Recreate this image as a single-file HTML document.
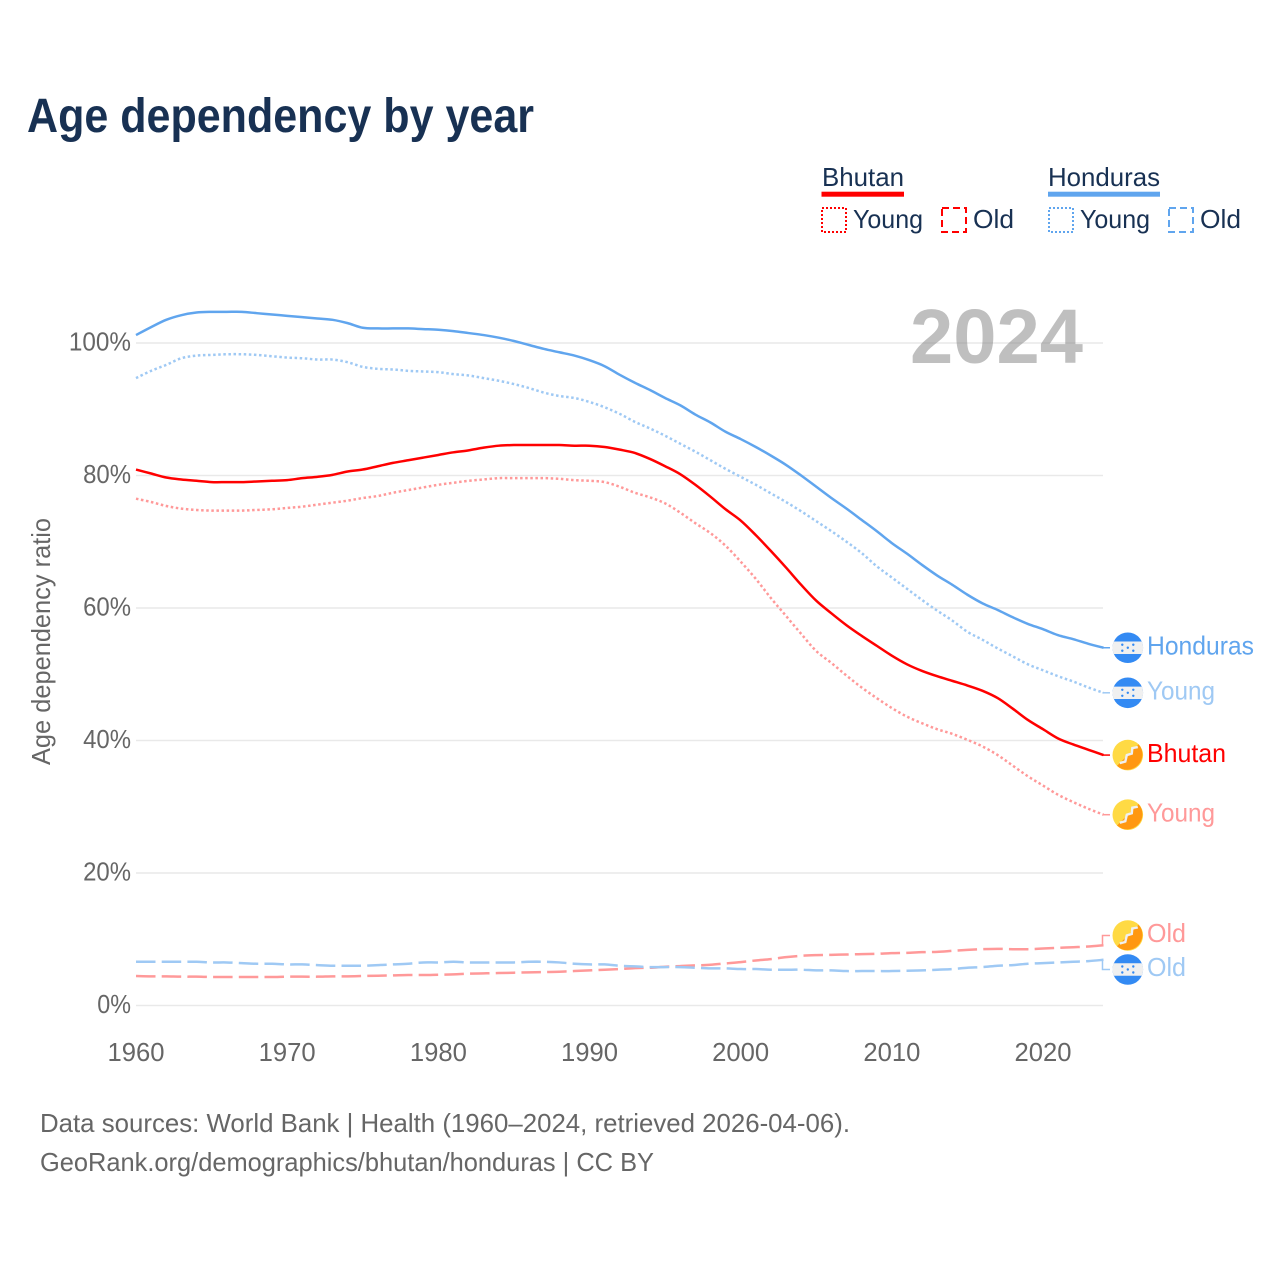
<!DOCTYPE html>
<html lang="en">
<head>
<meta charset="utf-8">
<title>Age dependency by year</title>
<style>
html,body{margin:0;padding:0;background:#fff;width:1280px;height:1280px;overflow:hidden}
svg{display:block}
text{font-family:"Liberation Sans",sans-serif}
</style>
</head>
<body>
<svg id="chart" xmlns="http://www.w3.org/2000/svg" width="1280" height="1280" viewBox="0 0 1280 1280">
  <rect x="0" y="0" width="1280" height="1280" fill="#ffffff"/>
  <text x="27" y="132" font-size="48" font-weight="700" fill="#183153" textLength="507" lengthAdjust="spacingAndGlyphs">Age dependency by year</text>

  <g font-size="26" fill="#183153">
    <text x="822" y="186" textLength="82" lengthAdjust="spacingAndGlyphs">Bhutan</text>
    <rect x="821.5" y="191.7" width="82.5" height="5" fill="#ff0000"/>
    <rect x="822" y="208" width="24" height="24" fill="none" stroke="#ff0000" stroke-width="2" stroke-dasharray="2 2"/>
    <text x="853" y="228" textLength="70" lengthAdjust="spacingAndGlyphs">Young</text>
    <rect x="942" y="208" width="24" height="24" fill="none" stroke="#ff0000" stroke-width="2" stroke-dasharray="7 4"/>
    <text x="973" y="228" textLength="41" lengthAdjust="spacingAndGlyphs">Old</text>

    <text x="1048" y="186" textLength="112" lengthAdjust="spacingAndGlyphs">Honduras</text>
    <rect x="1048" y="191.7" width="112" height="5" fill="#60a5ee"/>
    <rect x="1049" y="208" width="24" height="24" fill="none" stroke="#60a5ee" stroke-width="2" stroke-dasharray="2 2"/>
    <text x="1080" y="228" textLength="70" lengthAdjust="spacingAndGlyphs">Young</text>
    <rect x="1169" y="208" width="24" height="24" fill="none" stroke="#60a5ee" stroke-width="2" stroke-dasharray="7 4"/>
    <text x="1200" y="228" textLength="41" lengthAdjust="spacingAndGlyphs">Old</text>
  </g>

  <g id="grid"></g>
  <g id="yticks"></g>
  <g id="xticks"></g>
  <text transform="translate(50,641.5) rotate(-90)" text-anchor="middle" font-size="26" fill="#666666" textLength="247" lengthAdjust="spacingAndGlyphs">Age dependency ratio</text>
  <g id="series"></g>
  <text id="year-watermark" x="910" y="363" font-size="77" font-weight="700" fill="#808080" fill-opacity="0.5" textLength="173" lengthAdjust="spacingAndGlyphs">2024</text>
  <g id="endlabels"></g>

  <text x="40" y="1132" font-size="26" fill="#666666" textLength="810" lengthAdjust="spacingAndGlyphs">Data sources: World Bank | Health (1960–2024, retrieved 2026-04-06).</text>
  <text x="40" y="1171" font-size="26" fill="#666666" textLength="614" lengthAdjust="spacingAndGlyphs">GeoRank.org/demographics/bhutan/honduras | CC BY</text>
</svg>

<script>
const firstYear = 1960;
const xTickYears = [1960, 1970, 1980, 1990, 2000, 2010, 2020];
const yTickValues = [0, 20, 40, 60, 80, 100];

const hondurasTotal = [
  101.2,102.4,103.5,104.2,104.6,104.7,104.7,104.7,104.5,104.3,
  104.1,103.9,103.7,103.5,103.0,102.3,102.2,102.2,102.2,102.1,
  102.0,101.8,101.5,101.2,100.8,100.3,99.7,99.1,98.6,98.1,
  97.4,96.5,95.2,94.0,92.9,91.7,90.6,89.2,88.0,86.6,
  85.5,84.3,83.0,81.6,80.0,78.3,76.6,75.0,73.3,71.6,
  69.8,68.2,66.5,64.9,63.5,62.0,60.7,59.7,58.6,57.6,
  56.8,55.9,55.3,54.6,54.0];
const hondurasYoung = [
  94.7,95.8,96.7,97.7,98.1,98.2,98.3,98.3,98.2,98.0,
  97.8,97.7,97.5,97.5,97.1,96.4,96.1,96.0,95.8,95.7,
  95.6,95.3,95.1,94.7,94.3,93.8,93.2,92.5,92.0,91.7,
  91.1,90.3,89.3,88.1,87.1,86.0,84.8,83.6,82.3,81.0,
  79.8,78.6,77.3,76.0,74.6,73.1,71.6,70.0,68.3,66.3,
  64.6,62.9,61.2,59.6,58.1,56.4,55.2,53.9,52.7,51.5,
  50.6,49.7,48.9,48.0,47.2];
const hondurasOld = [
  6.6,6.6,6.6,6.6,6.6,6.5,6.5,6.4,6.3,6.3,
  6.2,6.2,6.1,6.0,6.0,6.0,6.1,6.2,6.3,6.5,
  6.5,6.6,6.5,6.5,6.5,6.5,6.6,6.6,6.5,6.3,
  6.2,6.2,6.0,5.9,5.8,5.8,5.8,5.7,5.6,5.6,
  5.5,5.5,5.4,5.4,5.4,5.3,5.3,5.2,5.2,5.2,
  5.2,5.25,5.3,5.4,5.5,5.7,5.8,6.0,6.1,6.3,
  6.4,6.5,6.6,6.7,6.9];
const bhutanTotal = [
  80.9,80.3,79.7,79.4,79.2,79.0,79.0,79.0,79.1,79.2,
  79.3,79.6,79.8,80.1,80.6,80.9,81.4,81.9,82.3,82.7,
  83.1,83.5,83.8,84.2,84.5,84.6,84.6,84.6,84.6,84.5,
  84.5,84.3,83.9,83.4,82.5,81.4,80.2,78.6,76.8,74.9,
  73.2,71.0,68.6,66.1,63.5,61.1,59.2,57.4,55.8,54.3,
  52.8,51.5,50.5,49.7,49.0,48.3,47.5,46.4,44.8,43.1,
  41.7,40.3,39.4,38.6,37.8];
const bhutanYoung = [
  76.5,76.0,75.4,75.0,74.8,74.7,74.7,74.7,74.8,74.9,
  75.1,75.3,75.6,75.9,76.2,76.6,76.9,77.4,77.8,78.2,
  78.6,78.9,79.2,79.4,79.6,79.6,79.6,79.6,79.5,79.3,
  79.2,79.0,78.3,77.4,76.7,75.8,74.4,72.8,71.3,69.4,
  67.0,64.4,61.5,58.8,56.1,53.5,51.7,49.8,48.0,46.4,
  44.9,43.6,42.6,41.7,41.0,40.1,39.1,37.8,36.2,34.6,
  33.2,31.8,30.7,29.7,28.8];
const bhutanOld = [
  4.45,4.4,4.4,4.35,4.35,4.3,4.3,4.3,4.3,4.3,
  4.35,4.35,4.35,4.4,4.4,4.45,4.5,4.55,4.6,4.6,
  4.65,4.7,4.8,4.85,4.9,4.95,5.0,5.05,5.1,5.2,
  5.3,5.4,5.5,5.65,5.7,5.85,5.95,6.05,6.15,6.35,
  6.55,6.8,7.0,7.3,7.5,7.6,7.65,7.7,7.75,7.8,
  7.9,7.95,8.05,8.1,8.25,8.4,8.5,8.55,8.5,8.5,
  8.6,8.7,8.8,8.9,9.1];

const NS = 'http://www.w3.org/2000/svg';
const xScale = function (year) { return 136 + (year - 1960) * 15.117; };
const yScale = function (value) { return 1005.5 - value * 6.625; };

function make(tag, attrs, parent) {
  const el = document.createElementNS(NS, tag);
  Object.keys(attrs).forEach(function (k) { el.setAttribute(k, attrs[k]); });
  parent.appendChild(el);
  return el;
}

/* Smooth path through every data point (Catmull-Rom converted to cubic Beziers). */
function smoothPath(values) {
  const pts = values.map(function (v, i) { return [xScale(firstYear + i), yScale(v)]; });
  let d = 'M' + pts[0][0].toFixed(2) + ',' + pts[0][1].toFixed(2);
  for (let i = 0; i < pts.length - 1; i++) {
    const p0 = pts[Math.max(i - 1, 0)];
    const p1 = pts[i];
    const p2 = pts[i + 1];
    const p3 = pts[Math.min(i + 2, pts.length - 1)];
    const c1x = p1[0] + (p2[0] - p0[0]) / 6;
    const c1y = p1[1] + (p2[1] - p0[1]) / 6;
    const c2x = p2[0] - (p3[0] - p1[0]) / 6;
    const c2y = p2[1] - (p3[1] - p1[1]) / 6;
    d += ' C' + c1x.toFixed(2) + ',' + c1y.toFixed(2) + ' ' + c2x.toFixed(2) + ',' + c2y.toFixed(2) + ' ' + p2[0].toFixed(2) + ',' + p2[1].toFixed(2);
  }
  return d;
}

const gridGroup = document.getElementById('grid');
const yTickGroup = document.getElementById('yticks');
const xTickGroup = document.getElementById('xticks');
const seriesGroup = document.getElementById('series');
const labelGroup = document.getElementById('endlabels');

yTickValues.forEach(function (v) {
  const line = make('line', {x1: 136, x2: 1103, y1: yScale(v), y2: yScale(v), stroke: '#e9e9e9', 'stroke-width': 1.5}, gridGroup);
  
  
  const str = v + '%';
  const t = make('text', {x: 131, y: yScale(v) + 7.5, 'text-anchor': 'end', 'font-size': 26, fill: '#666666',
    textLength: (str.length - 1) * 14.2 + 19.5, lengthAdjust: 'spacingAndGlyphs'}, yTickGroup);
  t.textContent = str;
  
  
});

xTickYears.forEach(function (yr) {
  const t = make('text', {x: xScale(yr), y: 1061, 'text-anchor': 'middle', 'font-size': 26, fill: '#666666',
    textLength: 57, lengthAdjust: 'spacingAndGlyphs'}, xTickGroup);
  t.textContent = String(yr);
  
  
});

const DOT = '2.5 2.6';
const DASH = '19.5 6.2';
const seriesList = [
  {key: 'bhutan-old', values: bhutanOld, color: '#ff9999', dash: DASH, label: 'Old', country: 'bhutan'},
  {key: 'honduras-old', values: hondurasOld, color: '#9fc9f4', dash: DASH, label: 'Old', country: 'honduras'},
  {key: 'bhutan-young', values: bhutanYoung, color: '#ff9999', dash: DOT, label: 'Young', country: 'bhutan'},
  {key: 'honduras-young', values: hondurasYoung, color: '#9fc9f4', dash: DOT, label: 'Young', country: 'honduras'},
  {key: 'bhutan-total', values: bhutanTotal, color: '#ff0000', dash: '', label: 'Bhutan', country: 'bhutan'},
  {key: 'honduras-total', values: hondurasTotal, color: '#60a5ee', dash: '', label: 'Honduras', country: 'honduras'}
];

seriesList.forEach(function (s) {
  const line = make('path', {d: smoothPath(s.values), fill: 'none', stroke: s.color, 'stroke-width': 2.5, 'stroke-linejoin': 'round'}, seriesGroup);
  if (s.dash) line.setAttribute('stroke-dasharray', s.dash);
  
  
});

/* End-label placement: start at each series' last value, push apart to keep a minimum gap. */
const placed = seriesList.map(function (s) {
  const endY = yScale(s.values[s.values.length - 1]);
  return {s: s, endY: endY, y: endY};
}).sort(function (a, b) { return a.endY - b.endY; });
for (let pass = 0; pass < 20; pass++) {
  for (let i = 0; i < placed.length - 1; i++) {
    const gap = placed[i + 1].y - placed[i].y;
    if (gap < 34) {
      const shift = (34 - gap) / 2;
      placed[i].y -= shift;
      placed[i + 1].y += shift;
    }
  }
}

function drawHondurasFlag(g) {
  const base = make('circle', {r: 15.3, fill: '#338af3'}, g);
  
  
  const band = make('path', {d: 'M-14,-6.2 H14 A15.3,15.3 0 0 1 14,6.2 H-14 A15.3,15.3 0 0 1 -14,-6.2 Z', fill: '#f0f0f0'}, g);
  
  
  [[-5.5, -3], [5.5, -3], [0, 0], [-5.5, 3], [5.5, 3]].forEach(function (p) {
    const star = make('circle', {cx: p[0], cy: p[1], r: 1.2, fill: '#338af3'}, g);
    
    
  });
}

function drawBhutanFlag(g) {
  const base = make('circle', {r: 15.3, fill: '#ffda44'}, g);
  
  
  const half = make('path', {d: 'M-10.8,10.8 A15.3,15.3 0 0 0 10.8,-10.8 Z', fill: '#ff9811'}, g);
  
  
  const dragon = make('path', {d: 'M-8,8 L-2.5,6.5 L-1,0 L4,-1.5 L4.5,-7 L10,-8', fill: 'none', stroke: '#f0f0f0', 'stroke-width': 2.4}, g);
  
  
}

placed.forEach(function (p) {
  const s = p.s;
  const endX = xScale(firstYear + s.values.length - 1) - 1;
  const d = 'M' + endX + ',' + p.endY.toFixed(2) + ' V' + p.y.toFixed(2) + ' H1110';
  const conn = make('path', {d: d, fill: 'none', stroke: s.color, 'stroke-width': 1.5}, labelGroup);
  
  

  const flag = make('g', {transform: 'translate(1127.8,' + p.y.toFixed(2) + ')'}, labelGroup);
  
  
  if (s.country === 'honduras') drawHondurasFlag(flag); else drawBhutanFlag(flag);

  const widths = {Honduras: 107, Bhutan: 79, Young: 68, Old: 39};
  const t = make('text', {x: 1147, y: (p.y + 6.7).toFixed(2), 'font-size': 26, fill: s.color,
    textLength: widths[s.label], lengthAdjust: 'spacingAndGlyphs'}, labelGroup);
  t.textContent = s.label;
  
  
});
</script>
</body>
</html>
